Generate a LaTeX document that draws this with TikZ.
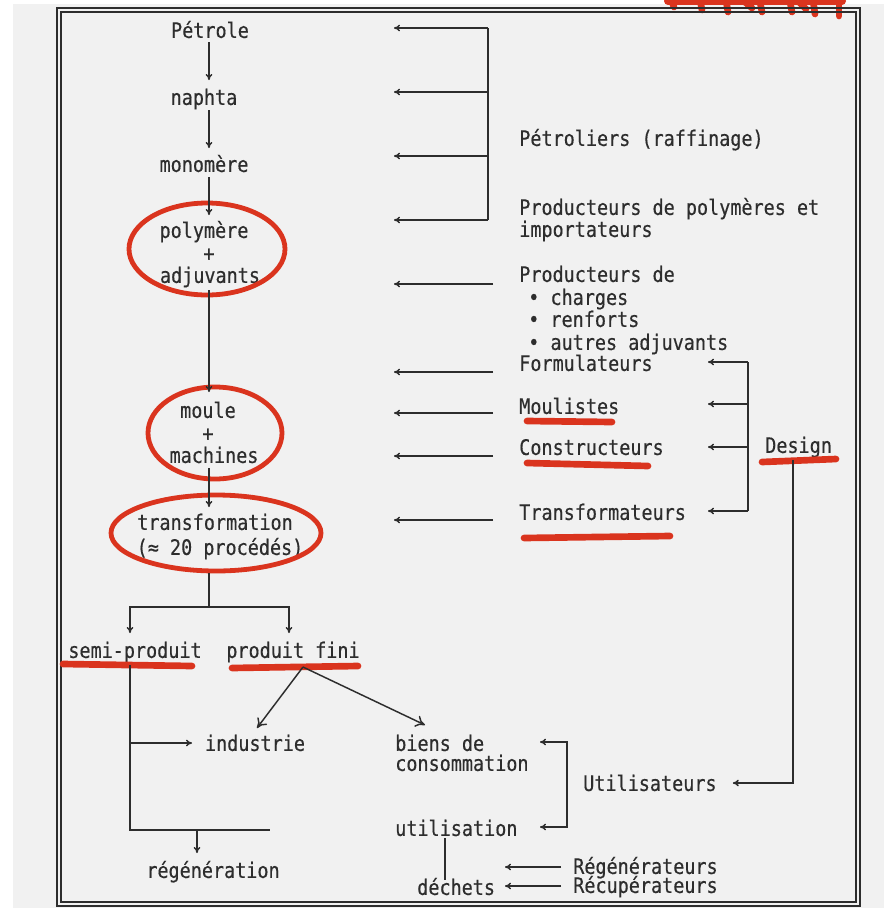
\documentclass[tikz,border=0pt]{standalone}
\usepackage{fontspec}
\setmainfont[FakeStretch=0.865,FakeBold=0.4]{DejaVu Sans Mono}
\usetikzlibrary{arrows.meta,calc}
\definecolor{paper}{RGB}{241,241,241}
\definecolor{ink}{RGB}{45,45,45}
\definecolor{marker}{RGB}{218,52,30}
\begin{document}
\begin{tikzpicture}[x=0.75pt,y=-0.75pt,
 lbl/.style={inner sep=0pt, text=ink, font=\fontsize{16pt}{17.5pt}\selectfont,
   execute at begin node={\lower3.2pt\hbox\bgroup}, execute at end node={\egroup}},
 L/.style={lbl, anchor=mid west},
 C/.style={lbl, anchor=mid},
 ln/.style={draw=ink, line width=1.1pt},
 arr/.style={ln, -{To[length=4.5pt,width=5pt]}},
 bigarr/.style={ln, -{To[length=7pt,width=9pt]}},
 ring/.style={draw=marker, line width=3.6pt},
 uline/.style={draw=marker, line width=5pt, line cap=round},
 frame/.style={draw=ink, line width=1.2pt}]

\useasboundingbox (0,0) rectangle (884,908);
\fill[white] (0,0) rectangle (884,908);
\fill[paper] (13,4) rectangle (884,908);

% red scribble cut at the top
\draw[uline, line width=6pt] (668,1) -- (842,1);
\draw[uline] (672,2) -- (674,7);
\draw[uline] (700,0) -- (702,10);
\draw[uline] (726,0) -- (728,12);
\draw[uline] (745,2) -- (752,8);
\draw[uline] (760,2) -- (762,12);
\draw[uline] (790,2) -- (792,12);
\draw[uline] (800,3) -- (806,9);
\draw[uline] (813,0) -- (815,14);
\draw[uline] (839,2) -- (839,16);

% frame
\draw[frame] (57,8) rectangle (860,906);
\draw[frame] (61,12) rectangle (856,902);

% ---------- left column ----------
\node[C] (petrole)  at (210,30)  {Pétrole};
\node[C] (naphta)   at (204,97)  {naphta};
\node[C] (monomere) at (204,164) {monomère};
\node[C] (poly)     at (204,230) {polymère};
\node[C] (plus1)    at (209,253) {+};
\node[C] (adjuv)    at (210,275) {adjuvants};
\node[C] (moule)    at (208,410) {moule};
\node[C] (plus2)    at (208,433) {+};
\node[C] (machines) at (214,455) {machines};
\node[C] (transf)   at (215,522) {transformation};
\node[C] (proc)     at (220,547) {(≈ 20 procédés)};
\node[C] (semi)     at (135,650) {semi-produit};
\node[C] (fini)     at (293,650) {produit fini};
\node[C] (industrie) at (255,743) {industrie};
\node[C] (regen)    at (213,870) {régénération};

% ---------- right texts ----------
\node[L] (petroliers) at (519,138) {Pétroliers (raffinage)};
\node[L] (prodpoly)   at (519,207) {Producteurs de polymères et};
\node[L] (importat)   at (519,229) {importateurs};
\node[L] (prodde)     at (519,274) {Producteurs de};
\node[L] (charges)    at (528,297) {• charges};
\node[L] (renforts)   at (528,319) {• renforts};
\node[L] (autres)     at (528,342) {• autres adjuvants};
\node[L] (formul)     at (519,363) {Formulateurs};
\node[L] (moulistes)  at (519,406) {Moulistes};
\node[L] (construct)  at (519,447) {Constructeurs};
\node[L] (transfo)    at (519,512) {Transformateurs};
\node[L] (design)     at (765,445) {Design};
\node[L] (utilis)     at (583,783) {Utilisateurs};
\node[L] (biens)      at (395,743) {biens de};
\node[L] (consom)     at (395,763) {consommation};
\node[L] (utilisation) at (395,828) {utilisation};
\node[L] (dechets)    at (417,887) {déchets};
\node[L] (regenr)     at (573,866) {Régénérateurs};
\node[L] (recup)      at (573,885) {Récupérateurs};

% ---------- red rings ----------
\draw[ring] ($(plus1.mid)+(-2,-4)$) ellipse [x radius=78, y radius=46];
\draw[ring] ($(plus2.mid)+(7,0)$) ellipse [x radius=67, y radius=46];
\draw[ring] ($(transf.mid)+(1,11)$) ellipse [x radius=105, y radius=38];

% ---------- red underlines ----------
\draw[uline] ($(semi.mid)+(-72,14)$) -- ($(semi.mid)+(57,16)$);
\draw[uline] ($(fini.mid)+(-61,18)$) -- ($(fini.mid)+(65,16)$);
\draw[uline] ($(moulistes.mid west)+(8,15)$) -- ($(moulistes.mid west)+(93,16)$);
\draw[uline] ($(construct.mid west)+(8,16)$) -- ($(construct.mid west)+(129,19)$);
\draw[uline] ($(transfo.mid west)+(5,26)$) -- ($(transfo.mid west)+(151,24)$);
\draw[uline] ($(design.mid west)+(-3,17)$) -- ($(design.mid west)+(71,14)$);

% ---------- main column arrows ----------
\coordinate (colx) at (209,0);
\draw[arr] ($(colx |- petrole.mid)+(0,12)$) -- ($(colx |- naphta.mid)+(0,-17)$);
\draw[arr] ($(colx |- naphta.mid)+(0,13)$) -- ($(colx |- monomere.mid)+(0,-16)$);
\draw[arr] ($(colx |- monomere.mid)+(0,13)$) -- ($(colx |- poly.mid)+(0,-15)$);
\draw[arr] ($(colx |- adjuv.mid)+(0,15)$) -- ($(colx |- moule.mid)+(0,-18)$);
\draw[arr] ($(colx |- machines.mid)+(0,13)$) -- ($(colx |- transf.mid)+(0,-15)$);
\draw[ln] ($(colx |- proc.mid)+(0,26)$) -- ($(colx |- proc.mid)+(0,60)$) coordinate (split);
\draw[arr] (split) -| ($(semi.mid)+(-5,-17)$);
\draw[arr] (split) -| ($(fini.mid)+(-4,-17)$);

% semi-produit branch
\coordinate (s0) at ($(semi.mid)+(-5,15)$);
\draw[ln] (s0) |- ($(regen.mid)+(57,-40)$);
\draw[arr] (s0 |- industrie.mid) -- ($(industrie.mid)+(-63,0)$);
\draw[arr] ($(regen.mid)+(-16,-40)$) -- ($(regen.mid)+(-16,-17)$);

% produit fini branches
\coordinate (fb) at ($(fini.mid)+(10,17)$);
\draw[bigarr] (fb) -- ($(industrie.mid)+(2,-15)$);
\draw[bigarr] (fb) -- ($(biens.mid west)+(30,-18)$);

% ---------- top right bracket ----------
\coordinate (b1) at (488,28);
\coordinate (b2) at (488,92);
\coordinate (b3) at (488,156);
\coordinate (b4) at (488,220);
\draw[ln] (b1) -- (b4);
\draw[arr] (b1) -- ($(b1)+(-94,0)$);
\draw[arr] (b2) -- ($(b2)+(-94,0)$);
\draw[arr] (b3) -- ($(b3)+(-94,0)$);
\draw[arr] (b4) -- ($(b4)+(-94,0)$);

% ---------- single arrows from suppliers ----------
\draw[arr] ($(prodde.mid west)+(-26,10)$) -- ++(-99,0);
\draw[arr] ($(formul.mid west)+(-26,9)$) -- ++(-99,0);
\draw[arr] ($(moulistes.mid west)+(-26,7)$) -- ++(-99,0);
\draw[arr] ($(construct.mid west)+(-26,9)$) -- ++(-99,0);
\draw[arr] ($(transfo.mid west)+(-26,8)$) -- ++(-99,0);

% ---------- Design bracket ----------
\coordinate (dx) at (748,0);
\draw[ln] ($(dx |- formul.mid)+(0,-1)$) -- ($(dx |- transfo.mid)+(0,-1)$);
\draw[arr] ($(dx |- formul.mid)+(0,-1)$) -- ($(formul.mid west)+(189,-1)$);
\draw[arr] ($(dx |- moulistes.mid)+(0,-2)$) -- ($(moulistes.mid west)+(189,-2)$);
\draw[arr] ($(dx |- construct.mid)+(0,0)$) -- ($(construct.mid west)+(189,0)$);
\draw[arr] ($(dx |- transfo.mid)+(0,-1)$) -- ($(transfo.mid west)+(189,-1)$);
\draw[arr] ($(design.mid west)+(28,15)$) |- ($(utilis.mid east)+(16,0)$);

% ---------- users bracket ----------
\draw[ln,{To[length=4.5pt,width=5pt]}-{To[length=4.5pt,width=5pt]}]
  ($(biens.mid west)+(145,-1)$) -- ++(27,0) |- ($(utilisation.mid west)+(145,-1)$);
\draw[ln] ($(utilisation.mid west)+(50,10)$) -- ($(dechets.mid west)+(28,-7)$);
\draw[arr] ($(regenr.mid west)+(-12,1)$) -- ++(-56,0);
\draw[arr] ($(recup.mid west)+(-12,1)$) -- ++(-56,0);
\end{tikzpicture}
\end{document}
